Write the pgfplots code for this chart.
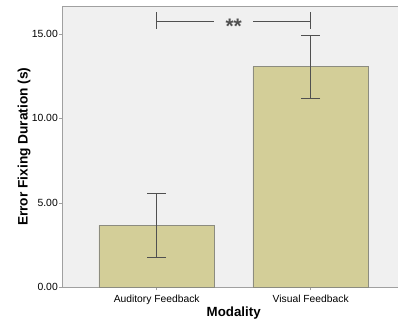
\documentclass[border=0pt]{standalone}
\usepackage{pgfplots}
\pgfplotsset{compat=1.18}
\usepackage{fontspec}
\setmainfont{Liberation Sans}
\definecolor{bg}{HTML}{F0F0F0}
\definecolor{barfill}{HTML}{D3CE98}
\definecolor{baredge}{HTML}{8C8C80}
\definecolor{axgray}{HTML}{A0A0A0}
\definecolor{errgray}{HTML}{505050}
\begin{document}
\begin{tikzpicture}
\path[use as bounding box] (0,0) rectangle (398pt,324pt);
\begin{axis}[
  at={(62pt,36.7pt)}, anchor=south west,
  scale only axis, width=336pt, height=281.3pt,
  xmin=-0.615, xmax=1.567, ymin=0, ymax=16.65,
  axis background/.style={fill=bg},
  axis x line*=bottom, axis y line*=left,
  axis line style={axgray, line width=0.8pt, -},
  xtick={0,1}, xticklabels={Auditory Feedback, Visual Feedback},
  ytick={0,5,10,15},
  tick align=outside, major tick length=3pt,
  tick style={axgray, line width=0.6pt},
  /pgf/number format/assume math mode=true,
  yticklabel={\pgfmathprintnumber[fixed,fixed zerofill,precision=2]{\tick}},
  yticklabel style={font=\fontsize{10.4}{12}\selectfont, inner sep=1pt},
  xticklabel style={font=\fontsize{10.3}{12}\selectfont, inner sep=1pt, yshift=-4pt},
  xlabel={Modality},
  xlabel style={font=\fontsize{13.3}{15}\selectfont\bfseries, at={(axis cs:0.5,0)}, anchor=center, yshift=-25.4pt},
  ylabel={Error Fixing Duration (s)},
  ylabel style={font=\fontsize{13.7}{15}\selectfont\bfseries, at={(axis description cs:0,0.5)}, anchor=center, yshift=38pt},
  clip=false,
]
\addplot[ybar, bar width=0.75, fill=barfill, draw=baredge, line width=0.8pt,
  error bars/.cd, y dir=both, y explicit,
  error bar style={errgray, line width=0.6pt},
  error mark options={errgray, line width=0.6pt, mark size=9.5pt, rotate=90}]
  coordinates {
    (0,3.67) +- (0,1.87)
    (1,13.05) +- (0,1.87)
  };
\draw[axgray, line width=0.8pt] (rel axis cs:0,1) -- (rel axis cs:1,1);
\draw[errgray, line width=0.6pt] (axis cs:0,16.27) -- (axis cs:0,15.27);
\draw[errgray, line width=0.6pt] (axis cs:1,16.27) -- (axis cs:1,15.27);
\draw[errgray, line width=0.6pt] (axis cs:0,15.72) -- (axis cs:0.372,15.72);
\draw[errgray, line width=0.6pt] (axis cs:0.627,15.72) -- (axis cs:1,15.72);
\node[font=\fontsize{21}{22}\selectfont\bfseries, text=errgray, inner sep=0pt, yshift=-5pt] at (axis cs:0.5,15.72) {**};
\end{axis}
\end{tikzpicture}
\end{document}
